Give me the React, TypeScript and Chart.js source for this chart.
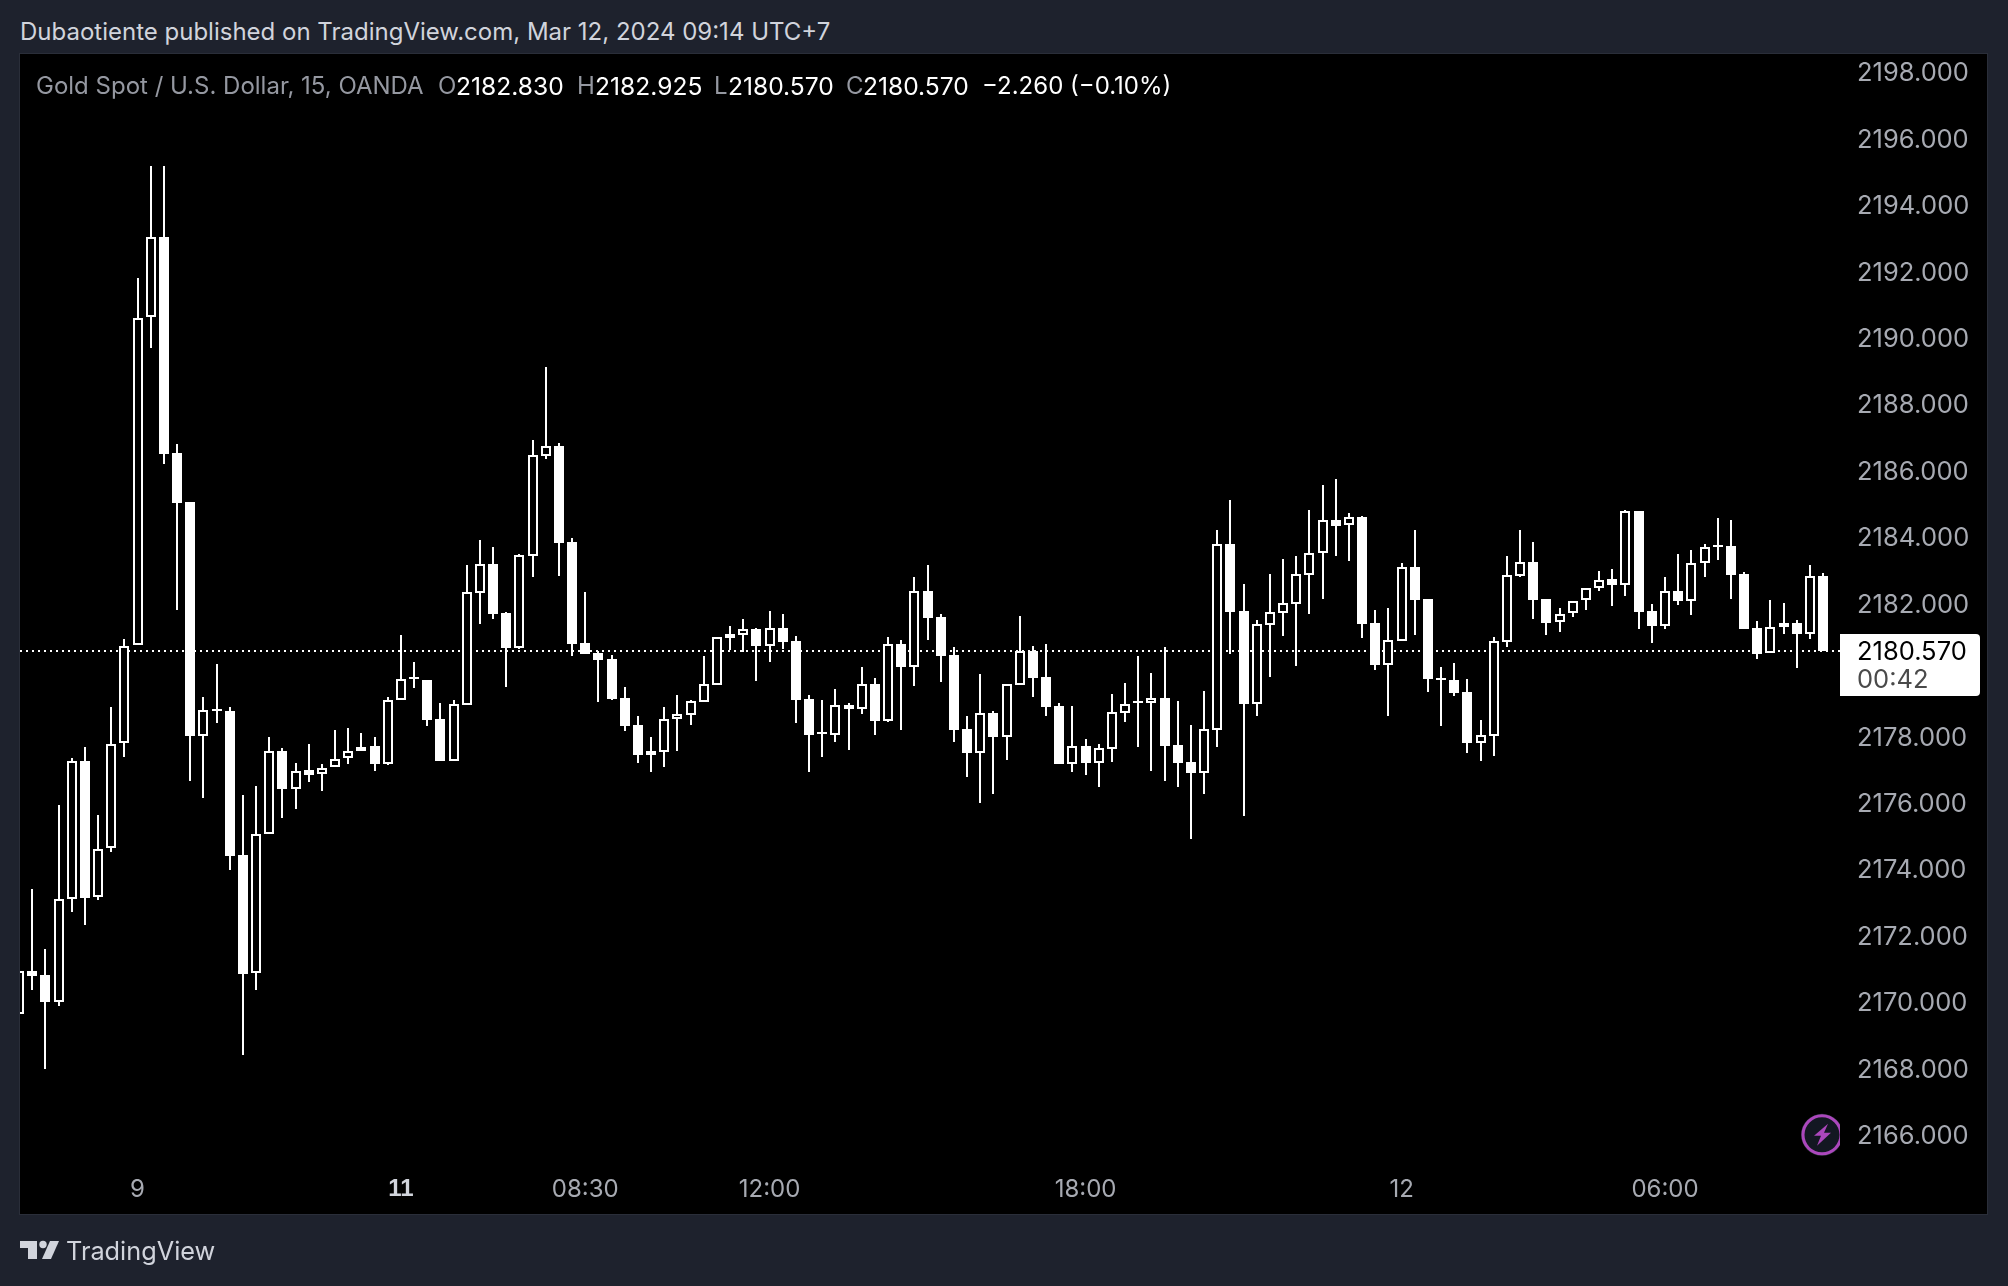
import React, { useEffect, useRef } from "react";
import { Chart, registerables } from "chart.js";

Chart.register(...registerables);

const opens = [2169.65,2170.94,2170.81,2170.0,2173.11,2177.25,2173.15,2174.63,2177.8,2180.75,2190.63,2193.05,2186.54,2185.06,2178.02,2178.8,2178.77,2174.42,2170.87,2175.07,2177.55,2176.4,2176.98,2176.86,2177.07,2177.34,2177.55,2177.71,2177.18,2179.09,2179.78,2179.7,2178.52,2177.27,2178.95,2182.33,2183.19,2181.71,2180.67,2183.44,2186.45,2186.74,2183.85,2180.81,2180.51,2180.33,2179.15,2178.34,2177.56,2177.54,2178.51,2178.65,2179.04,2179.56,2181.08,2181.05,2181.23,2180.72,2181.26,2180.87,2179.12,2178.1,2178.05,2178.94,2178.82,2179.58,2178.46,2180.78,2180.09,2182.38,2181.59,2180.45,2178.22,2177.51,2178.7,2177.98,2179.56,2180.58,2179.79,2178.91,2177.17,2177.71,2177.2,2177.63,2178.7,2179.05,2179.0,2179.15,2177.74,2177.23,2176.91,2178.2,2183.79,2181.77,2178.98,2181.36,2181.72,2182.0,2182.87,2183.51,2184.52,2184.35,2184.61,2181.41,2180.16,2180.88,2183.1,2182.14,2179.74,2179.7,2179.34,2177.81,2178.02,2180.85,2182.83,2183.25,2182.14,2181.43,2181.7,2182.1,2182.48,2182.74,2182.57,2184.79,2181.77,2181.33,2182.38,2182.09,2183.21,2183.75,2183.73,2182.89,2181.26,2180.5,2181.41,2181.41,2181.09,2182.83];
const highs = [2170.95,2173.39,2171.59,2175.94,2177.35,2177.67,2175.62,2178.87,2180.92,2191.81,2195.19,2195.19,2186.79,2185.06,2179.19,2180.18,2178.89,2176.22,2176.49,2177.99,2177.64,2177.21,2177.78,2177.18,2178.2,2178.24,2178.11,2177.99,2179.19,2181.06,2180.24,2179.7,2178.99,2179.09,2183.16,2183.91,2183.7,2181.74,2183.49,2186.93,2189.12,2186.84,2183.97,2182.35,2180.57,2180.45,2179.49,2178.61,2177.98,2178.88,2179.24,2179.09,2180.42,2180.98,2181.32,2181.53,2181.26,2181.77,2181.68,2181.02,2179.24,2179.09,2179.43,2179.0,2180.09,2179.76,2180.99,2180.9,2182.8,2183.16,2181.68,2180.69,2178.61,2179.88,2178.76,2179.57,2181.62,2180.72,2180.78,2179.0,2178.91,2177.92,2177.77,2179.27,2179.61,2180.42,2179.91,2180.69,2179.06,2178.34,2179.37,2184.21,2185.12,2182.59,2181.5,2182.89,2183.34,2183.43,2184.82,2185.57,2185.75,2184.73,2184.64,2181.8,2181.87,2183.22,2184.21,2182.14,2180.09,2180.21,2179.73,2178.49,2180.99,2183.43,2184.21,2183.85,2182.14,2181.87,2182.09,2182.48,2182.98,2183.04,2184.82,2184.79,2181.99,2182.8,2183.49,2183.61,2183.79,2184.58,2184.52,2182.95,2181.47,2182.11,2182.02,2181.5,2183.16,2182.925];
const lows = [2169.6,2170.35,2167.97,2169.89,2172.72,2172.33,2173.08,2174.53,2177.39,2180.75,2189.69,2186.19,2181.82,2176.66,2176.13,2178.41,2173.96,2168.41,2170.37,2175.07,2175.55,2175.8,2176.61,2176.36,2177.07,2177.18,2177.55,2176.96,2177.14,2179.09,2179.46,2178.31,2177.26,2177.27,2178.95,2181.38,2181.53,2179.49,2180.63,2182.8,2186.35,2182.83,2180.42,2180.48,2179.03,2179.09,2178.16,2177.2,2176.93,2177.08,2177.56,2178.34,2179.04,2179.56,2180.6,2180.55,2179.67,2180.24,2180.63,2178.4,2176.93,2177.38,2177.83,2177.59,2178.67,2178.04,2178.43,2178.19,2179.52,2180.9,2179.64,2177.83,2176.77,2175.99,2176.26,2177.29,2179.56,2179.18,2178.61,2177.17,2176.93,2176.84,2176.47,2177.23,2178.43,2177.68,2176.96,2176.65,2176.47,2174.91,2176.26,2177.68,2180.48,2175.6,2178.61,2179.79,2181.02,2180.12,2181.68,2182.14,2183.43,2183.28,2180.96,2180.0,2178.61,2180.88,2181.05,2179.34,2178.31,2179.21,2177.5,2177.26,2177.41,2180.69,2182.8,2181.53,2181.05,2181.14,2181.59,2181.8,2182.38,2181.93,2182.23,2181.23,2180.81,2181.23,2181.96,2181.65,2182.8,2183.31,2182.14,2181.23,2180.33,2180.5,2181.08,2180.06,2180.93,2180.57];
const closes = [2170.92,2170.78,2170.0,2173.11,2177.25,2173.13,2174.61,2177.78,2180.71,2190.61,2193.05,2186.51,2185.02,2178.02,2178.78,2178.76,2174.4,2170.85,2175.07,2177.55,2176.4,2176.96,2176.85,2177.05,2177.32,2177.55,2177.69,2177.18,2179.09,2179.74,2179.74,2178.49,2177.26,2178.96,2182.34,2183.18,2181.68,2180.66,2183.45,2186.46,2186.73,2183.82,2180.78,2180.48,2180.3,2179.12,2178.31,2177.44,2177.44,2178.51,2178.66,2179.05,2179.57,2180.98,2180.96,2181.22,2180.72,2181.25,2180.84,2179.09,2178.04,2178.06,2178.93,2178.82,2179.57,2178.46,2180.77,2180.09,2182.37,2181.56,2180.42,2178.19,2177.5,2178.69,2177.98,2179.57,2180.56,2179.76,2178.88,2177.17,2177.7,2177.2,2177.64,2178.72,2178.96,2179.01,2179.14,2177.71,2177.2,2176.9,2178.21,2183.78,2181.74,2178.97,2181.37,2181.73,2182.01,2182.88,2183.51,2184.51,2184.34,2184.6,2181.38,2180.15,2180.89,2183.09,2182.11,2179.73,2179.7,2179.3,2177.8,2178.03,2180.86,2182.85,2183.24,2182.11,2181.41,2181.68,2182.09,2182.48,2182.72,2182.56,2184.78,2181.74,2181.32,2182.37,2182.08,2183.21,2183.69,2183.71,2182.86,2181.23,2180.48,2181.3,2181.29,2181.08,2182.82,2180.57];

const priceTicks = [2166,2168,2170,2172,2174,2176,2178,2180,2182,2184,2186,2188,2190,2192,2194,2196,2198];
const timeTickIndex = [9,29,43,57,81,105,125];
const timeTickLabels = ["9","11","08:30","12:00","18:00","12","06:00"];
const boldTimeTicks = ["11"];

const lastPrice = 2180.57;
const countdown = "00:42";
const titleText = "Dubaotiente published on TradingView.com, Mar 12, 2024 09:14 UTC+7";
const symbolText = "Gold Spot / U.S. Dollar, 15, OANDA";
const ohlcLabels = ["O","H","L","C"];
const ohlcValues = ["2182.830","2182.925","2180.570","2180.570"];
const changeText = "\u22122.260 (\u22120.10%)";

const FONT = "Inter, 'Noto Sans', sans-serif";
const AXIS_GREY = "#a7aab2";
const X_MIN = 0.076;
const X_MAX = 138.29;

const isBold = (value: any) => boldTimeTicks.includes(timeTickLabels[timeTickIndex.indexOf(value)]);

const snapBars = {
  id: "snapBars",
  beforeDatasetsDraw(chart: any) {
    chart.getSortedVisibleDatasetMetas().forEach((meta: any) => {
      if (meta.type !== "bar") return;
      meta.data.forEach((el: any) => {
        el.x = Math.round(el.x);
        el.y = Math.round(el.y);
        el.base = Math.round(el.base);
      });
    });
  },
};

const priceBadge = {
  id: "priceBadge",
  afterDraw(chart: any) {
    const { ctx, chartArea, scales } = chart;
    const py = scales.y.getPixelForValue(lastPrice);
    const left = chartArea.right;
    ctx.save();
    ctx.fillStyle = "#ffffff";
    ctx.beginPath();
    ctx.roundRect(left, py - 17, 140, 62, [0, 4, 4, 0]);
    ctx.fill();
    ctx.font = `25.5px ${FONT}`;
    ctx.textBaseline = "middle";
    ctx.textAlign = "left";
    ctx.fillStyle = "#000000";
    ctx.fillText(lastPrice.toFixed(3), left + 17, py + 1);
    ctx.fillStyle = "#4a4a4a";
    ctx.fillText(countdown, left + 17, py + 29);
    ctx.restore();

    // lightning badge, cut off by the price axis
    const cx = 1822;
    const cy = scales.y.getPixelForValue(2166);
    ctx.save();
    ctx.beginPath();
    ctx.rect(chartArea.left, chartArea.top, chartArea.right - chartArea.left, chartArea.bottom - chartArea.top);
    ctx.clip();
    ctx.beginPath();
    ctx.arc(cx, cy, 21, 0, Math.PI * 2);
    ctx.fillStyle = "#2a2e39";
    ctx.fill();
    ctx.beginPath();
    ctx.arc(cx, cy, 19, 0, Math.PI * 2);
    ctx.fillStyle = "#131722";
    ctx.fill();
    ctx.strokeStyle = "#ab47bc";
    ctx.lineWidth = 3;
    ctx.stroke();
    ctx.beginPath();
    const bolt = [[6,-11],[-8,1],[-1,1],[-5,11],[9,-2],[2,-2]];
    bolt.forEach(([dx, dy], i) => (i ? ctx.lineTo(cx + dx, cy + dy) : ctx.moveTo(cx + dx, cy + dy)));
    ctx.closePath();
    ctx.fillStyle = "#ab47bc";
    ctx.fill();
    ctx.restore();
  },
};

const abs = (left: number, top: number, extra: any = {}) => ({
  position: "absolute" as const,
  left,
  top,
  whiteSpace: "nowrap" as const,
  fontFamily: FONT,
  fontSize: 24,
  lineHeight: "28px",
  ...extra,
});

const ohlcLabelX = [438, 577, 714, 846];
const ohlcValueX = [456, 595, 728, 863];

export default function App() {
  const ref = useRef<HTMLCanvasElement | null>(null);

  useEffect(() => {
    document.body.style.margin = "0";
    document.body.style.background = "#1e222d";
    const xs = opens.map((_, i) => i);
    const chart = new Chart(ref.current as HTMLCanvasElement, {
      type: "bar",
      data: {
        datasets: [
          {
            type: "bar",
            label: "Body",
            order: 1,
            data: xs.map((i) => ({ x: i, y: [opens[i], closes[i]] })),
            barThickness: 10,
            grouped: false,
            minBarLength: 2,
            borderSkipped: false,
            inflateAmount: 0,
            borderWidth: 2,
            borderColor: "#ffffff",
            backgroundColor: xs.map((i) => (closes[i] > opens[i] ? "#000000" : "#ffffff")),
          },
          {
            type: "bar",
            label: "Wick",
            order: 2,
            data: xs.map((i) => ({ x: i, y: [lows[i], highs[i]] })),
            barThickness: 2,
            grouped: false,
            inflateAmount: 0,
            borderWidth: 0,
            backgroundColor: "#ffffff",
          },
          {
            type: "line",
            label: "Last price",
            order: 3,
            data: [
              { x: X_MIN, y: lastPrice },
              { x: X_MAX, y: lastPrice },
            ],
            borderColor: "#ffffff",
            borderWidth: 2,
            borderDash: [2, 4],
            pointRadius: 0,
            fill: false,
          },
        ] as any,
      },
      options: {
        responsive: false,
        animation: false,
        devicePixelRatio: 1,
        layout: { padding: { left: 20, top: 54, right: 20, bottom: 71 } },
        plugins: { legend: { display: false }, tooltip: { enabled: false }, title: { display: false } },
        scales: {
          x: {
            type: "linear",
            min: X_MIN,
            max: X_MAX,
            offset: false,
            grid: { display: false, drawTicks: false },
            border: { display: false },
            afterBuildTicks: (axis: any) => {
              axis.ticks = timeTickIndex.map((value) => ({ value }));
            },
            afterFit: (axis: any) => {
              axis.height = 50;
            },
            ticks: {
              autoSkip: false,
              maxRotation: 0,
              padding: 10,
              color: (c: any) => (isBold(c.tick?.value) ? "#d1d4dc" : AXIS_GREY),
              font: (c: any) =>
                isBold(c.tick?.value)
                  ? { family: "'Liberation Sans', sans-serif", size: 24, weight: "bold" }
                  : { family: FONT, size: 24, weight: "normal" },
              callback: (v: any) => timeTickLabels[timeTickIndex.indexOf(v)] ?? "",
            },
          },
          y: {
            type: "linear",
            position: "right",
            min: 2165.09,
            max: 2198.55,
            grid: { display: false, drawTicks: false },
            border: { display: false },
            afterBuildTicks: (axis: any) => {
              axis.ticks = priceTicks.map((value) => ({ value }));
            },
            afterFit: (axis: any) => {
              axis.width = 148;
            },
            ticks: {
              autoSkip: false,
              padding: 17,
              labelOffset: 1.5,
              color: AXIS_GREY,
              font: { family: FONT, size: 25.5 },
              callback: (v: any) => Number(v).toFixed(3),
            },
          },
        },
      } as any,
      plugins: [snapBars, priceBadge] as any,
    });
    return () => chart.destroy();
  }, []);

  return (
    <div style={{ position: "relative", width: 2008, height: 1286, background: "#1e222d", overflow: "hidden" }}>
      <div style={abs(20, 18, { color: "#d1d4dc" })}>{titleText}</div>
      <div style={{ position: "absolute", left: 19, top: 53, width: 1967, height: 1160, background: "#000", border: "1px solid #2a2e39" }} />
      <canvas ref={ref} width={2008} height={1286} style={{ position: "absolute", left: 0, top: 0, display: "block" }} />
      <div style={abs(36, 72, { color: "#9598a1" })}>{symbolText}</div>
      {ohlcLabels.map((l, i) => (
        <React.Fragment key={l}>
          <div style={abs(ohlcLabelX[i], 72, { color: "#9598a1" })}>{l}</div>
          <div style={abs(ohlcValueX[i], 72, { color: "#ffffff", fontSize: 24.6 })}>{ohlcValues[i]}</div>
        </React.Fragment>
      ))}
      <div style={abs(982, 72, { color: "#ffffff" })}>{changeText}</div>
      <svg style={{ position: "absolute", left: 20, top: 1240 }} width="39" height="20" viewBox="0 0 39 20">
        <path d="M17 1H0v7h8v11h9z" fill="#d1d4dc" />
        <circle cx="23" cy="4.5" r="3.7" fill="#d1d4dc" />
        <path d="M39 1l-8 18h-9L30 1z" fill="#d1d4dc" />
      </svg>
      <div style={abs(66, 1234, { color: "#d1d4dc", fontSize: 25.3, lineHeight: "34px" })}>TradingView</div>
    </div>
  );
}
